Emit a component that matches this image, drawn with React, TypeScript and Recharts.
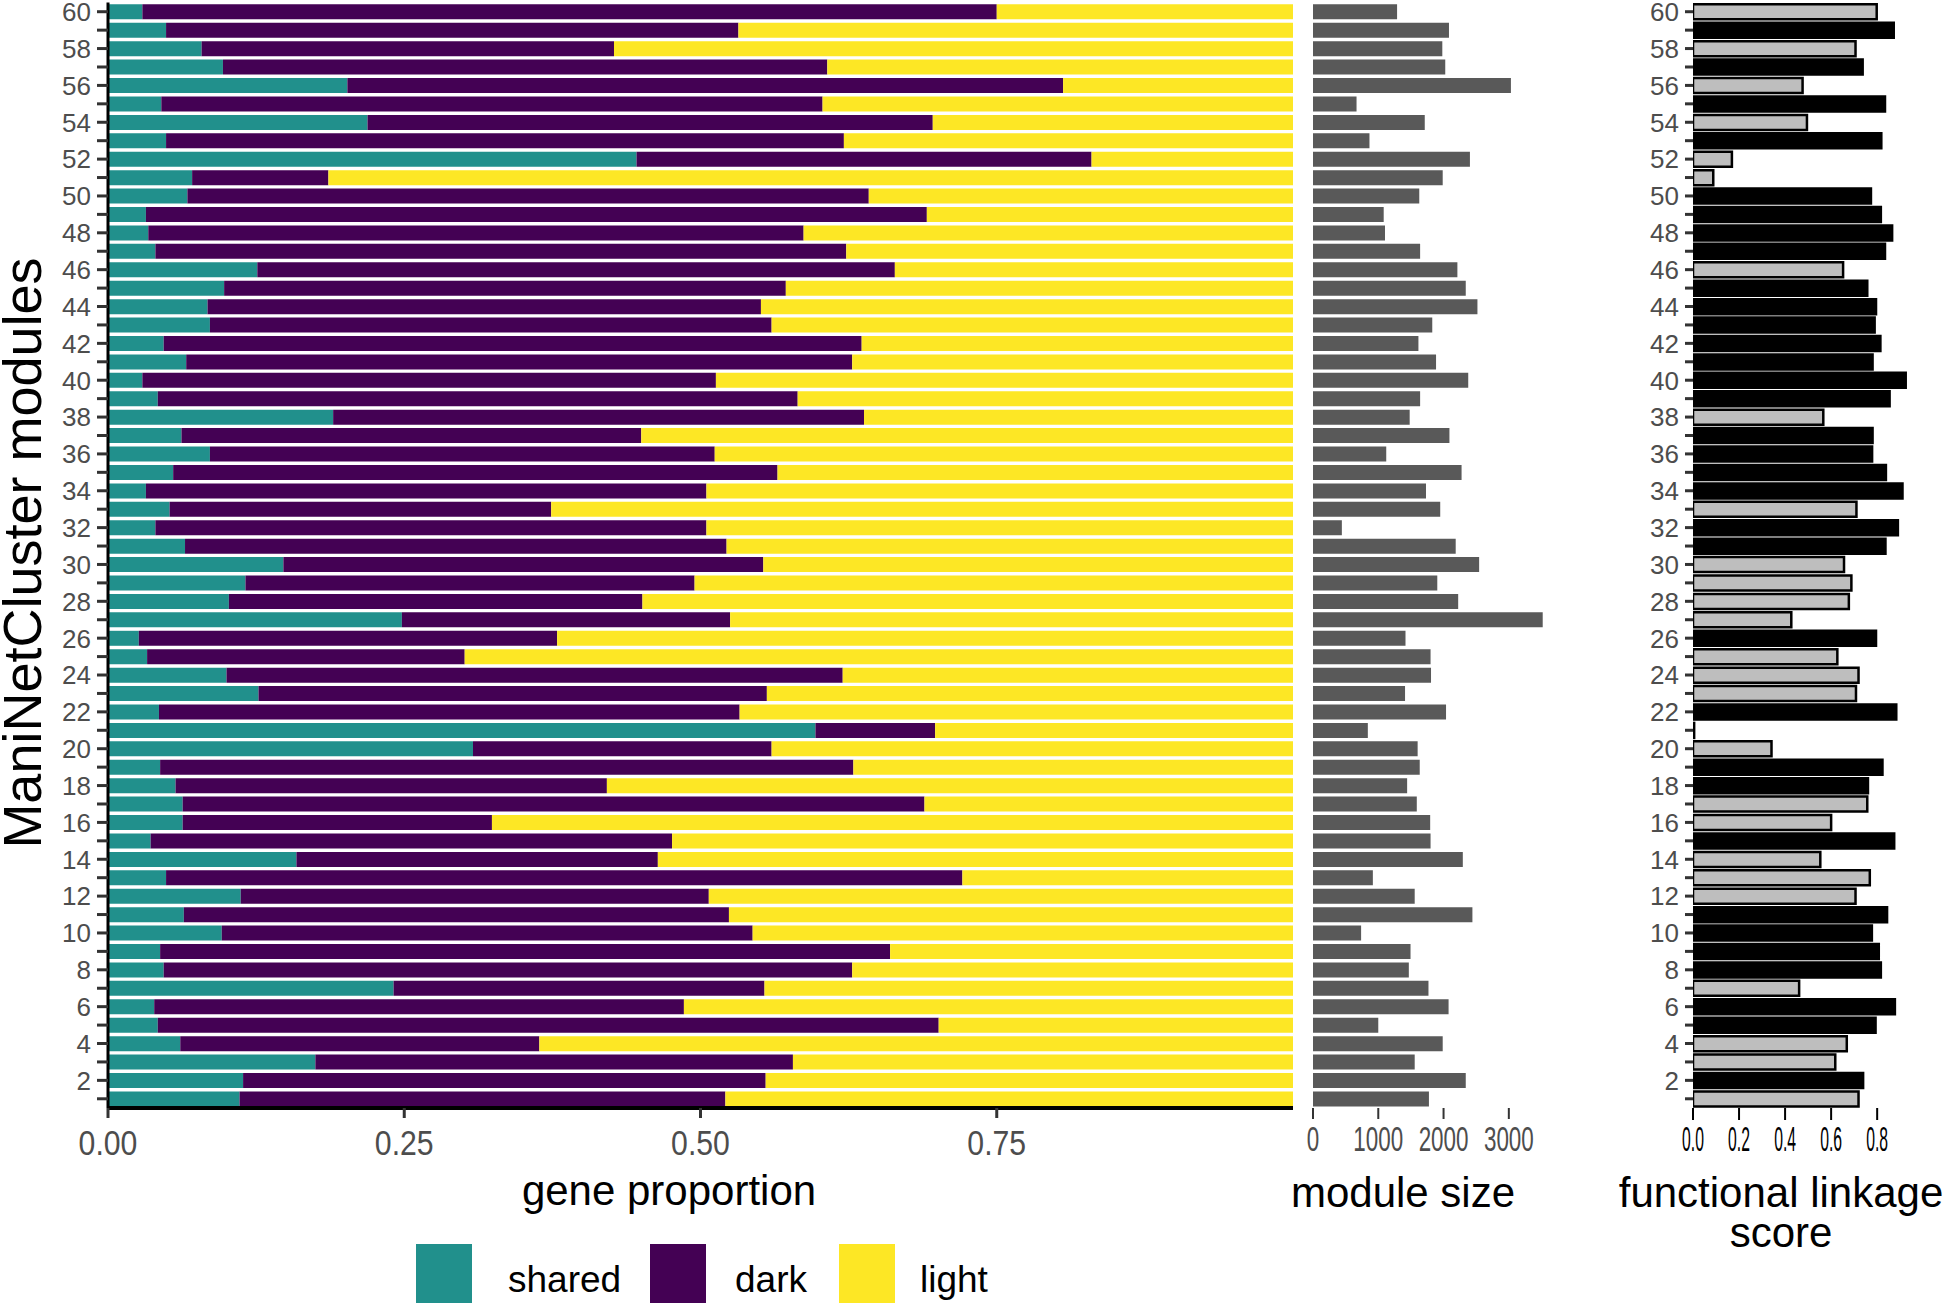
import React from 'react'
import { BarChart, Bar, XAxis, YAxis, Cell } from 'recharts'

const FONT = "'Liberation Sans', Arial, Helvetica, sans-serif"

// viridis, as in the original figure
const SHARED = '#21908C'
const DARK = '#440154'
const LIGHT = '#FDE725'

// module ids, 1 .. 60
const modules = [
  1, 2, 3, 4, 5, 6, 7, 8, 9, 10, 11, 12, 13, 14, 15, 16, 17, 18, 19, 20,
  21, 22, 23, 24, 25, 26, 27, 28, 29, 30, 31, 32, 33, 34, 35, 36, 37, 38, 39, 40,
  41, 42, 43, 44, 45, 46, 47, 48, 49, 50, 51, 52, 53, 54, 55, 56, 57, 58, 59, 60,
]

// gene proportions per module (same order as modules)
const sharedProp = [
  0.111, 0.114, 0.175, 0.061, 0.042, 0.039, 0.241, 0.047, 0.044, 0.096,
  0.064, 0.112, 0.049, 0.159, 0.036, 0.063, 0.063, 0.057, 0.044, 0.308,
  0.597, 0.043, 0.127, 0.1, 0.033, 0.026, 0.248, 0.102, 0.116, 0.148,
  0.065, 0.04, 0.052, 0.032, 0.055, 0.086, 0.062, 0.19, 0.042, 0.029,
  0.066, 0.047, 0.086, 0.084, 0.098, 0.126, 0.04, 0.034, 0.032, 0.067,
  0.071, 0.446, 0.049, 0.219, 0.045, 0.202, 0.097, 0.079, 0.049, 0.029,
]
const darkProp = [
  0.41, 0.441, 0.403, 0.303, 0.659, 0.447, 0.313, 0.581, 0.616, 0.448,
  0.46, 0.395, 0.672, 0.305, 0.44, 0.261, 0.626, 0.364, 0.585, 0.252,
  0.101, 0.49, 0.429, 0.52, 0.268, 0.353, 0.277, 0.349, 0.379, 0.405,
  0.457, 0.465, 0.322, 0.473, 0.51, 0.426, 0.388, 0.448, 0.54, 0.484,
  0.562, 0.589, 0.474, 0.467, 0.474, 0.538, 0.583, 0.553, 0.659, 0.575,
  0.115, 0.384, 0.572, 0.477, 0.558, 0.604, 0.51, 0.348, 0.483, 0.721,
]
const lightProp = [
  0.479, 0.445, 0.422, 0.636, 0.299, 0.514, 0.446, 0.372, 0.34, 0.456,
  0.476, 0.493, 0.279, 0.536, 0.524, 0.676, 0.311, 0.579, 0.371, 0.44,
  0.302, 0.467, 0.444, 0.38, 0.699, 0.621, 0.475, 0.549, 0.505, 0.447,
  0.478, 0.495, 0.626, 0.495, 0.435, 0.488, 0.55, 0.362, 0.418, 0.487,
  0.372, 0.364, 0.44, 0.449, 0.428, 0.336, 0.377, 0.413, 0.309, 0.358,
  0.814, 0.17, 0.379, 0.304, 0.397, 0.194, 0.393, 0.573, 0.468, 0.25,
]

const moduleSize = [
  1776, 2340, 1558, 1987, 1000, 2077, 1769, 1468, 1494, 737,
  2442, 1558, 917, 2295, 1801, 1795, 1590, 1442, 1635, 1603,
  840, 2038, 1410, 1808, 1801, 1417, 3519, 2224, 1904, 2545,
  2186, 442, 1949, 1731, 2276, 1122, 2090, 1481, 1641, 2378,
  1885, 1615, 1827, 2519, 2340, 2212, 1641, 1103, 1083, 1628,
  1987, 2404, 865, 1712, 667, 3032, 2026, 1981, 2083, 1288,
]

const linkageScore = [
  0.719, 0.739, 0.618, 0.668, 0.793, 0.877, 0.461, 0.816, 0.807, 0.777,
  0.843, 0.706, 0.768, 0.553, 0.874, 0.6, 0.757, 0.76, 0.823, 0.341,
  0.005, 0.883, 0.708, 0.719, 0.627, 0.795, 0.427, 0.677, 0.688, 0.656,
  0.836, 0.89, 0.71, 0.91, 0.838, 0.778, 0.78, 0.566, 0.854, 0.924,
  0.78, 0.814, 0.789, 0.795, 0.757, 0.652, 0.834, 0.865, 0.816, 0.773,
  0.088, 0.169, 0.818, 0.495, 0.834, 0.476, 0.737, 0.706, 0.872, 0.798,
]
// black bars = significant, grey bars = not
const linkageSignificant = [
  false, true, false, false, true, true, false, true, true, true,
  true, false, false, false, true, false, false, true, true, false,
  false, true, false, false, false, true, false, false, false, false,
  true, true, false, true, true, true, true, false, true, true,
  true, true, true, true, true, false, true, true, true, true,
  false, false, true, false, true, false, true, false, true, false,
]

const proportionTicks = [0, 0.25, 0.5, 0.75]
const sizeTicks = [0, 1000, 2000, 3000]
const linkageTicks = [0, 0.2, 0.4, 0.6, 0.8]

// module 60 on top
const rows = modules
  .map((m, i) => ({
    module: m,
    shared: sharedProp[i],
    dark: darkProp[i],
    light: lightProp[i],
    size: moduleSize[i],
    score: linkageScore[i],
    significant: linkageSignificant[i],
  }))
  .reverse()

const CHART_H = 1170
const X_AXIS_H = 62
const TOP = 2.5

function makeXTick(fontSize: number, squeeze: number, dy: number, fill: string, fmt: (v: number) => string) {
  return (props: any) => {
    const { x, y, payload } = props
    return (
      <g transform={`translate(${x},${y})`}>
        <text
          transform={`scale(${squeeze},1)`}
          x={0}
          y={dy}
          textAnchor="middle"
          fontSize={fontSize}
          fill={fill}
          fontFamily={FONT}
        >
          {fmt(payload.value)}
        </text>
      </g>
    )
  }
}

function makeYTick(fontSize: number) {
  return (props: any) => {
    const { x, y, payload } = props
    if (Number(payload.value) % 2 !== 0) return <g />
    return (
      <text x={x - 6} y={y} dy="0.36em" textAnchor="end" fontSize={fontSize} fill="#4D4D4D" fontFamily={FONT}>
        {payload.value}
      </text>
    )
  }
}

function ProportionChart() {
  return (
    <BarChart
      width={1300}
      height={CHART_H}
      data={rows}
      layout="vertical"
      margin={{ top: TOP, right: 7, bottom: 0, left: 0 }}
      barCategoryGap="10%"
    >
      <XAxis
        type="number"
        domain={[0, 1]}
        ticks={proportionTicks}
        allowDataOverflow
        height={X_AXIS_H}
        tickSize={10}
        tickMargin={0}
        axisLine={{ stroke: '#000', strokeWidth: 4 }}
        tickLine={{ stroke: '#333', strokeWidth: 3 }}
        tick={makeXTick(36, 0.84, 37, '#4D4D4D', (v) => v.toFixed(2))}
      />
      <YAxis
        type="category"
        dataKey="module"
        width={108}
        interval={0}
        tickSize={11}
        tickMargin={0}
        axisLine={{ stroke: '#000', strokeWidth: 3 }}
        tickLine={{ stroke: '#333', strokeWidth: 3 }}
        tick={makeYTick(26)}
      />
      <Bar dataKey="shared" stackId="p" fill={SHARED} isAnimationActive={false} />
      <Bar dataKey="dark" stackId="p" fill={DARK} isAnimationActive={false} />
      <Bar dataKey="light" stackId="p" fill={LIGHT} isAnimationActive={false} />
    </BarChart>
  )
}

function SizeChart() {
  return (
    <BarChart
      width={260}
      height={CHART_H}
      data={rows}
      layout="vertical"
      margin={{ top: TOP, right: 12, bottom: 0, left: 13 }}
      barCategoryGap="10%"
    >
      <XAxis
        type="number"
        domain={[0, 3600]}
        ticks={sizeTicks}
        allowDataOverflow
        height={X_AXIS_H}
        tickSize={11}
        tickMargin={0}
        axisLine={false}
        tickLine={{ stroke: '#333', strokeWidth: 2 }}
        tick={makeXTick(35, 0.64, 32, '#4D4D4D', (v) => String(v))}
      />
      <YAxis type="category" dataKey="module" hide />
      <Bar dataKey="size" fill="#595959" isAnimationActive={false} />
    </BarChart>
  )
}

function LinkageChart() {
  return (
    <BarChart
      width={346}
      height={CHART_H}
      data={rows}
      layout="vertical"
      margin={{ top: TOP, right: 32, bottom: 0, left: 0 }}
      barCategoryGap="10%"
    >
      <XAxis
        type="number"
        domain={[0, 0.96]}
        ticks={linkageTicks}
        allowDataOverflow
        height={X_AXIS_H}
        tickSize={12}
        tickMargin={0}
        axisLine={false}
        tickLine={{ stroke: '#000', strokeWidth: 2 }}
        tick={makeXTick(35, 0.45, 31, '#000', (v) => v.toFixed(1))}
      />
      <YAxis
        type="category"
        dataKey="module"
        width={93}
        interval={0}
        tickSize={8}
        tickMargin={0}
        axisLine={false}
        tickLine={{ stroke: '#333', strokeWidth: 3 }}
        tick={makeYTick(26)}
      />
      <Bar dataKey="score" stroke="#000" strokeWidth={2.5} isAnimationActive={false}>
        {rows.map((r, i) => (
          <Cell key={`cell-${i}`} fill={r.significant ? '#000000' : '#BEBEBE'} />
        ))}
      </Bar>
    </BarChart>
  )
}

const legendItems = [
  { label: 'shared', color: SHARED, key: 416, text: 508 },
  { label: 'dark', color: DARK, key: 650, text: 735 },
  { label: 'light', color: LIGHT, key: 839, text: 920 },
]

export default function App() {
  return (
    <div style={{ position: 'absolute', left: 0, top: 0, width: 1946, height: 1303, background: '#fff', overflow: 'hidden' }}>
      <div style={{ position: 'absolute', left: 0, top: 0 }}>
        <ProportionChart />
      </div>
      <div style={{ position: 'absolute', left: 1300, top: 0 }}>
        <SizeChart />
      </div>
      <div style={{ position: 'absolute', left: 1600, top: 0 }}>
        <LinkageChart />
      </div>
      <svg
        width={1946}
        height={1303}
        style={{ position: 'absolute', left: 0, top: 0, pointerEvents: 'none' }}
        fontFamily={FONT}
      >
        <text transform="translate(41,553) rotate(-90)" textAnchor="middle" fontSize={54} fill="#000">
          ManiNetCluster modules
        </text>
        <text x={669} y={1205} textAnchor="middle" fontSize={42} fill="#000">
          gene proportion
        </text>
        <text x={1403} y={1207} textAnchor="middle" fontSize={42} fill="#000">
          module size
        </text>
        <text x={1781} y={1207} textAnchor="middle" fontSize={42} fill="#000">
          functional linkage
        </text>
        <text x={1781} y={1247} textAnchor="middle" fontSize={42} fill="#000">
          score
        </text>
        {legendItems.map((it) => (
          <g key={it.label}>
            <rect x={it.key} y={1244} width={56} height={62} fill={it.color} />
            <text x={it.text} y={1292} fontSize={37} fill="#000">
              {it.label}
            </text>
          </g>
        ))}
      </svg>
    </div>
  )
}
